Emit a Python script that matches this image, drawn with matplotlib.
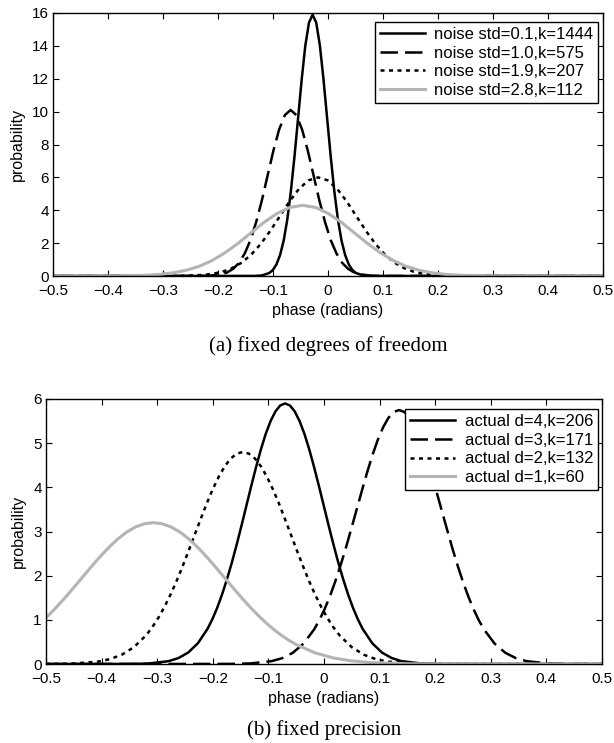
import matplotlib
matplotlib.use("Agg")
import matplotlib.pyplot as plt

# ---------------- data ----------------
# panel (a): fixed degrees of freedom
a_labels = ["noise std=0.1,k=1444", "noise std=1.0,k=575",
            "noise std=1.9,k=207", "noise std=2.8,k=112"]

a1_x = [-0.5, -0.1332, -0.1201, -0.1069, -0.1003, -0.0938, -0.0872, -0.0806, -0.0740,
        -0.0675, -0.0609, -0.0543, -0.0477, -0.0412, -0.0346, -0.028, -0.0214, -0.0148,
        -0.0083, -0.0017, 0.0049, 0.0115, 0.0180, 0.0246, 0.0312, 0.0378, 0.0443, 0.0509,
        0.0641, 0.0772, 0.5]
a1_y = [0.0, 0.005, 0.035, 0.18, 0.36, 0.70, 1.27, 2.15, 3.44, 5.16, 7.28, 9.64, 12.00,
        14.03, 15.41, 15.90, 15.41, 14.03, 12.00, 9.64, 7.28, 5.16, 3.44, 2.15, 1.27, 0.70,
        0.36, 0.18, 0.035, 0.005, 0.0]

a2_x = [-0.5, -0.2348, -0.2140, -0.1931, -0.1827, -0.1723, -0.1618, -0.1514, -0.1410,
        -0.1306, -0.1201, -0.1097, -0.0993, -0.0889, -0.0784, -0.068, -0.0576, -0.0471,
        -0.0367, -0.0263, -0.0159, -0.0054, 0.0050, 0.0154, 0.0258, 0.0363, 0.0467, 0.0571,
        0.0780, 0.0988, 0.5]
a2_y = [0.0, 0.003, 0.022, 0.11, 0.23, 0.44, 0.80, 1.37, 2.18, 3.28, 4.62, 6.13, 7.62,
        8.91, 9.79, 10.10, 9.79, 8.91, 7.62, 6.13, 4.62, 3.28, 2.18, 1.37, 0.80, 0.44,
        0.23, 0.11, 0.022, 0.003, 0.0]

a3_x = [-0.5, -0.2960, -0.2613, -0.2265, -0.2091, -0.1918, -0.1744, -0.1570, -0.1396,
        -0.1223, -0.1049, -0.0875, -0.0701, -0.0528, -0.0354, -0.018, -0.0006, 0.0168,
        0.0341, 0.0515, 0.0689, 0.0863, 0.1036, 0.1210, 0.1384, 0.1558, 0.1731, 0.1905,
        0.2253, 0.2600, 0.5]
a3_y = [0.0, 0.002, 0.013, 0.067, 0.14, 0.26, 0.48, 0.81, 1.30, 1.95, 2.75, 3.64, 4.53,
        5.30, 5.82, 6.00, 5.82, 5.30, 4.53, 3.64, 2.75, 1.95, 1.30, 0.81, 0.48, 0.26,
        0.14, 0.067, 0.013, 0.002, 0.0]

a4_x = [-0.5, -0.4240, -0.3768, -0.3295, -0.3059, -0.2823, -0.2586, -0.2350, -0.2114,
        -0.1878, -0.1641, -0.1405, -0.1169, -0.0933, -0.0696, -0.046, -0.0224, 0.0013,
        0.0249, 0.0485, 0.0721, 0.0958, 0.1194, 0.1430, 0.1666, 0.1903, 0.2139, 0.2375,
        0.2848, 0.3320, 0.5]
a4_y = [0.0, 0.0013, 0.0095, 0.048, 0.098, 0.19, 0.34, 0.58, 0.93, 1.40, 1.97, 2.61,
        3.25, 3.79, 4.17, 4.30, 4.17, 3.79, 3.25, 2.61, 1.97, 1.40, 0.93, 0.58, 0.34,
        0.19, 0.098, 0.048, 0.0095, 0.0013, 0.0]

# panel (b): fixed precision
b_labels = ["actual d=4,k=206", "actual d=3,k=171",
            "actual d=2,k=132", "actual d=1,k=60"]

b1_x = [-0.5, -0.3488, -0.3140, -0.2791, -0.2617, -0.2443, -0.2268, -0.2094, -0.2007,
        -0.1920, -0.1833, -0.1746, -0.1658, -0.1571, -0.1484, -0.1397, -0.1310, -0.1223,
        -0.1136, -0.1049, -0.0961, -0.0874, -0.0787, -0.070, -0.0613, -0.0526, -0.0439,
        -0.0351, -0.0264, -0.0177, -0.0090, -0.0003, 0.0084, 0.0171, 0.0258, 0.0346,
        0.0433, 0.0520, 0.0607, 0.0694, 0.0868, 0.1043, 0.1217, 0.1391, 0.1740, 0.2088, 0.5]
b1_y = [0.0, 0.002, 0.013, 0.065, 0.135, 0.259, 0.470, 0.798, 1.017, 1.276, 1.576, 1.916,
        2.293, 2.701, 3.133, 3.578, 4.023, 4.453, 4.853, 5.207, 5.499, 5.718, 5.854, 5.90,
        5.854, 5.718, 5.499, 5.207, 4.853, 4.453, 4.023, 3.578, 3.133, 2.701, 2.293, 1.916,
        1.576, 1.276, 1.017, 0.798, 0.470, 0.259, 0.135, 0.065, 0.013, 0.002, 0.0]

b2_x = [-0.5, -0.1710, -0.1328, -0.0945, -0.0754, -0.0563, -0.0371, -0.0180, -0.0084,
        0.0011, 0.0107, 0.0202, 0.0298, 0.0394, 0.0489, 0.0585, 0.0681, 0.0776, 0.0872,
        0.0967, 0.1063, 0.1159, 0.1254, 0.135, 0.1446, 0.1541, 0.1637, 0.1733, 0.1828,
        0.1924, 0.2019, 0.2115, 0.2211, 0.2306, 0.2402, 0.2498, 0.2593, 0.2689, 0.2784,
        0.2880, 0.3071, 0.3263, 0.3454, 0.3645, 0.4028, 0.4410, 0.5]
b2_y = [0.0, 0.002, 0.013, 0.064, 0.131, 0.252, 0.458, 0.778, 0.991, 1.244, 1.536, 1.867,
        2.234, 2.632, 3.054, 3.487, 3.921, 4.340, 4.730, 5.074, 5.360, 5.573, 5.705, 5.75,
        5.705, 5.573, 5.360, 5.074, 4.730, 4.340, 3.921, 3.487, 3.054, 2.632, 2.234, 1.867,
        1.536, 1.244, 0.991, 0.778, 0.458, 0.252, 0.131, 0.064, 0.013, 0.002, 0.0]

b3_x = [-0.5, -0.4940, -0.4505, -0.4070, -0.3853, -0.3635, -0.3418, -0.3200, -0.3091,
        -0.2983, -0.2874, -0.2765, -0.2656, -0.2548, -0.2439, -0.2330, -0.2221, -0.2113,
        -0.2004, -0.1895, -0.1786, -0.1678, -0.1569, -0.146, -0.1351, -0.1242, -0.1134,
        -0.1025, -0.0916, -0.0807, -0.0699, -0.0590, -0.0481, -0.0372, -0.0264, -0.0155,
        -0.0046, 0.0063, 0.0171, 0.0280, 0.0498, 0.0715, 0.0933, 0.1150, 0.1585, 0.2020, 0.5]
b3_y = [0.001, 0.0014, 0.011, 0.053, 0.109, 0.211, 0.382, 0.649, 0.828, 1.038, 1.282,
        1.559, 1.865, 2.197, 2.549, 2.911, 3.273, 3.623, 3.948, 4.236, 4.474, 4.652, 4.763,
        4.80, 4.763, 4.652, 4.474, 4.236, 3.948, 3.623, 3.273, 2.911, 2.549, 2.197, 1.865,
        1.559, 1.282, 1.038, 0.828, 0.649, 0.382, 0.211, 0.109, 0.053, 0.011, 0.0014, 0.0]

b4_x = [-0.5, -0.4844, -0.4683, -0.4521, -0.4360, -0.4199, -0.4038, -0.3876, -0.3715,
        -0.3554, -0.3393, -0.3231, -0.307, -0.2909, -0.2747, -0.2586, -0.2425, -0.2264,
        -0.2102, -0.1941, -0.1780, -0.1619, -0.1457, -0.1296, -0.1135, -0.0974, -0.0812,
        -0.0651, -0.0490, -0.0167, 0.0155, 0.0478, 0.0800, 0.1445, 0.2090, 0.5]
b4_y = [1.045, 1.244, 1.465, 1.700, 1.941, 2.182, 2.415, 2.632, 2.824, 2.983, 3.101,
        3.175, 3.20, 3.175, 3.101, 2.983, 2.824, 2.632, 2.415, 2.182, 1.941, 1.700, 1.465,
        1.244, 1.039, 0.855, 0.692, 0.552, 0.433, 0.255, 0.140, 0.073, 0.036, 0.007,
        0.001, 0.0]

x_ticks = [-0.5, -0.4, -0.3, -0.2, -0.1, 0.0, 0.1, 0.2, 0.3, 0.4, 0.5]
x_ticklabels = ["\u22120.5", "\u22120.4", "\u22120.3", "\u22120.2", "\u22120.1",
                "0", "0.1", "0.2", "0.3", "0.4", "0.5"]
a_yticks = [0, 2, 4, 6, 8, 10, 12, 14, 16]
b_yticks = [0, 1, 2, 3, 4, 5, 6]
xlabel = "phase (radians)"
ylabel = "probability"
caption_a = "(a) fixed degrees of freedom"
caption_b = "(b) fixed precision"

# ---------------- drawing ----------------
plt.rcParams["font.family"] = ["Liberation Sans", "DejaVu Sans"]
W, H = 614, 743
fig = plt.figure(figsize=(W / 100, H / 100), dpi=100)

GRAY = "#b4b4b4"
LW = 1.8
styles = [
    dict(color="black", linestyle="-"),
    dict(color="black", linestyle=(0, (7.0, 2.8))),
    dict(color="black", linestyle=(0, (1.6, 1.8))),
    dict(color=GRAY, linestyle="-", lw=2.2),
]


def setup(ax, yticks, ylim):
    ax.set_xlim(-0.5, 0.5)
    ax.set_ylim(*ylim)
    ax.set_xticks(x_ticks)
    ax.set_xticklabels(x_ticklabels)
    ax.set_yticks(yticks)
    ax.tick_params(direction="in", top=True, right=True, length=4, width=0.8,
                   labelsize=11)
    ax.tick_params(axis="x", pad=5.5)
    ax.tick_params(axis="y", pad=3)
    for s in ax.spines.values():
        s.set_linewidth(1.0)
    ax.set_xlabel(xlabel, fontsize=11.5, labelpad=3.5)
    ax.set_ylabel(ylabel, fontsize=11.5, labelpad=5)


def px_axes(l, t, r, b):
    return fig.add_axes([l / W, 1 - b / H, (r - l) / W, (b - t) / H])


def add_legend(ax, anchor):
    leg = ax.legend(loc="upper right", bbox_to_anchor=anchor, borderaxespad=0,
                    fancybox=False, edgecolor="black", framealpha=1, fontsize=12,
                    handlelength=2.7, handletextpad=0.55, labelspacing=0.22,
                    borderpad=0.3)
    leg.get_frame().set_linewidth(1.0)
    return leg


# panel (a)
ax1 = px_axes(53, 13, 603, 276)
for (xs, ys), lab, st in zip([(a1_x, a1_y), (a2_x, a2_y), (a3_x, a3_y), (a4_x, a4_y)],
                             a_labels, styles):
    kw = dict(lw=LW)
    kw.update(st)
    ax1.plot(xs, ys, label=lab, dash_capstyle="butt", **kw)
setup(ax1, a_yticks, (0, 16))
add_legend(ax1, (0.991, 0.966))

# panel (b)
ax2 = px_axes(46, 399, 602, 664)
for (xs, ys), lab, st in zip([(b1_x, b1_y), (b2_x, b2_y), (b3_x, b3_y), (b4_x, b4_y)],
                             b_labels, styles):
    kw = dict(lw=LW)
    kw.update(st)
    ax2.plot(xs, ys, label=lab, dash_capstyle="butt", **kw)
setup(ax2, b_yticks, (0, 6))
add_legend(ax2, (0.993, 0.962))

fig.text(0.5 * (53 + 603) / W, 1 - 346 / H, caption_a, ha="center", va="center",
         fontsize=15, family=["Liberation Serif", "DejaVu Serif"])
fig.text(0.5 * (46 + 602) / W, 1 - 730 / H, caption_b, ha="center", va="center",
         fontsize=15, family=["Liberation Serif", "DejaVu Serif"])

fig.savefig("out.png", dpi=100)
